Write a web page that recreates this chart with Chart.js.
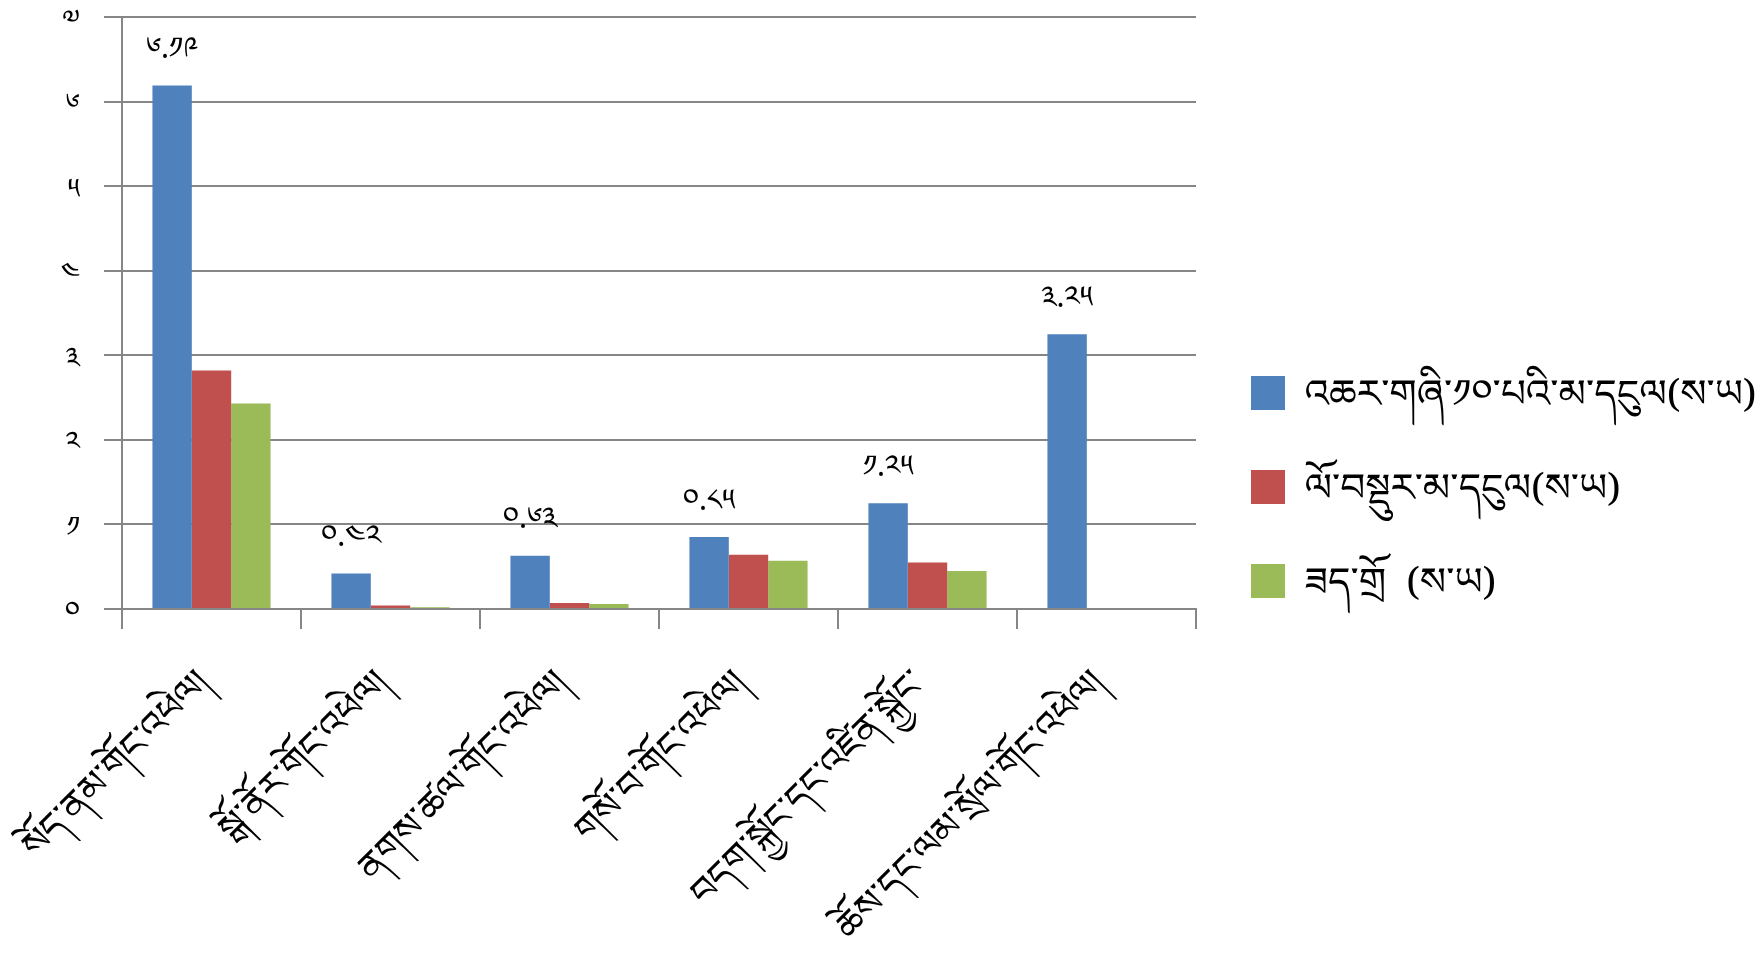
<!DOCTYPE html>
<html>
<head>
<meta charset="utf-8">
<script src="https://cdn.jsdelivr.net/npm/chart.js@4.4.1/dist/chart.umd.min.js"></script>
<style>
html,body{margin:0;padding:0;background:#fff;}
#wrap{width:1762px;height:957px;position:relative;}
</style>
</head>
<body>
<div id="wrap"><canvas id="c" width="1762" height="957"></canvas></div>
<script>
const categories = [
  'སོད་ནམ་གོང་འཕེལ།',
  'སྒོ་ནོར་གོང་འཕེལ།',
  'ནགས་ཚལ་གོང་འཕེལ།',
  'གསོ་བ་གོང་འཕེལ།',
  'བདག་སྐྱོང་དང་འཛིན་སྐྱོང་',
  'ཆོས་དང་ལམ་སྲོལ་གོང་འཕེལ།'
];
const seriesNames = [
  'འཆར་གཞི་༡༠་པའི་མ་དངུལ(ས་ཡ)',
  'ལོ་བསྡུར་མ་དངུལ(ས་ཡ)',
  'ཟད་གྲོ  (ས་ཡ)'
];
const planValues = [6.19, 0.42, 0.63, 0.85, 1.25, 3.25];
const compareValues = [2.82, 0.04, 0.07, 0.64, 0.55, 0];
const spendValues = [2.43, 0.02, 0.06, 0.57, 0.45, 0];
const yTickLabels = ['༠', '༡', '༢', '༣', '༤', '༥', '༦', '༧'];
const tibDigits = ['༠', '༡', '༢', '༣', '༤', '༥', '༦', '༧', '༨', '༩'];

const FAMILY = "'Noto Sans Tibetan','Noto Serif Tibetan','Jomolhari','Microsoft Himalaya','Tibetan Machine Uni','DejaVu Sans',sans-serif";
const toTib = v => String(v).replace(/[0-9]/g, d => tibDigits[+d]);

const legendPatchPlugin = {
  id: 'legendPatch',
  beforeLayout(chart) {
    const lg = chart.legend;
    if (lg && !lg._patched) {
      const origFit = lg.fit;
      lg.fit = function () { origFit.call(this); this.width = 566; };
      const origDraw = lg.draw;
      lg.draw = function (area) {
        const ctx = this.ctx;
        const protoFill = CanvasRenderingContext2D.prototype.fillText;
        ctx.fillText = function (t, x, y, ...rest) { return protoFill.call(this, t, x, y + 13, ...rest); };
        try { origDraw.call(this, area); } finally { delete ctx.fillText; }
      };
      lg._patched = true;
    }
  }
};

const barLabelPlugin = {
  id: 'barLabels',
  afterDatasetsDraw(chart) {
    const ctx = chart.ctx;
    const meta = chart.getDatasetMeta(0);
    ctx.save();
    ctx.font = "30px " + FAMILY;
    ctx.fillStyle = '#000';
    ctx.textAlign = 'center';
    ctx.textBaseline = 'middle';
    meta.data.forEach((el, i) => {
      ctx.fillText(toTib(planValues[i]), el.x, el.y - 28);
    });
    ctx.restore();
  }
};

Chart.defaults.font.family = FAMILY;

new Chart(document.getElementById('c'), {
  type: 'bar',
  data: {
    labels: categories,
    datasets: [
      { label: seriesNames[0], data: planValues, backgroundColor: '#4F81BD' },
      { label: seriesNames[1], data: compareValues, backgroundColor: '#C0504D' },
      { label: seriesNames[2], data: spendValues, backgroundColor: '#9BBB59' }
    ]
  },
  options: {
    responsive: false,
    devicePixelRatio: 1,
    animation: false,
    datasets: { bar: { categoryPercentage: 0.66, barPercentage: 1.0 } },
    layout: { padding: { top: 17, left: 0, right: 0, bottom: 0 } },
    plugins: {
      tooltip: { enabled: false },
      legend: {
        position: 'right',
        align: 'center',
        labels: {
          boxWidth: 34,
          boxHeight: 34,
          padding: 55,
          color: '#000',
          font: { size: 39, family: FAMILY }
        }
      }
    },
    scales: {
      x: {
        grid: { display: true, drawOnChartArea: false, drawTicks: true, tickLength: 20, color: '#868686', lineWidth: 2, offset: true },
        border: { display: true, color: '#868686', width: 2 },
        ticks: { autoSkip: false, maxRotation: 45, minRotation: 45, color: '#000', font: { size: 37, family: FAMILY }, padding: 40 },
        afterFit(scale) { scale.height = 348; scale.paddingLeft = 0; scale.paddingRight = 0; }
      },
      y: {
        min: 0,
        max: 7,
        ticks: { stepSize: 1, color: '#000', font: { size: 28, family: FAMILY }, padding: 24, labelOffset: 11, callback: v => yTickLabels[v] },
        grid: { color: '#868686', lineWidth: 2, tickLength: 18, drawTicks: true },
        border: { display: true, color: '#868686', width: 2 },
        afterFit(scale) { scale.width = 122; scale.paddingTop = 0; scale.paddingBottom = 0; }
      }
    }
  },
  plugins: [legendPatchPlugin, barLabelPlugin]
});
</script>
</body>
</html>
